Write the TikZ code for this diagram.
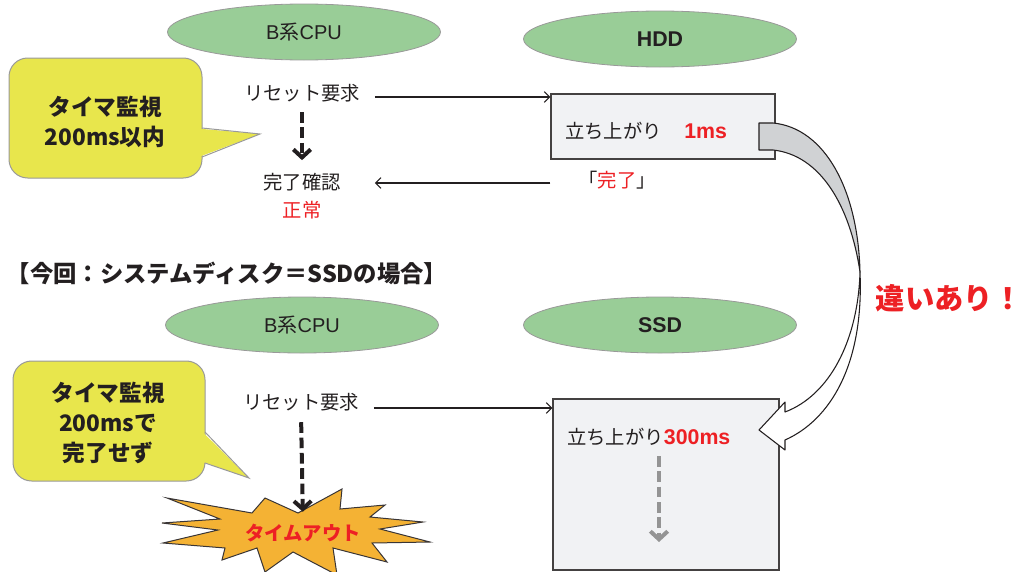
\documentclass[tikz,border=0pt]{standalone}
\usepackage{fontspec}
\setmainfont{Noto Sans CJK JP}
\newfontfamily\lat{Liberation Sans}
\usetikzlibrary{shapes.geometric,arrows.meta,calc}
\definecolor{ellg}{RGB}{153,205,151}
\definecolor{yel}{RGB}{232,230,76}
\definecolor{boxg}{RGB}{241,242,244}
\definecolor{myred}{RGB}{237,32,36}
\definecolor{orng}{RGB}{244,178,52}
\definecolor{ink}{RGB}{35,31,32}
\definecolor{arrg}{RGB}{208,210,212}
\begin{document}
\begin{tikzpicture}[x=0.75pt,y=-0.75pt,
 ell/.style={ellipse,draw=black!40,line width=0.6pt,fill=ellg,minimum width=204.75pt,minimum height=42pt,inner sep=0pt,text=ink},
 lbl/.style={text=ink,inner sep=2pt,font={\fontsize{14.5pt}{17pt}\selectfont}},
 bigb/.style={text=ink,align=center,inner sep=0pt,font={\fontsize{17pt}{22.5pt}\selectfont\bfseries}},
 boxs/.style={draw=ink!85,line width=1pt,fill=boxg,inner sep=0pt},
 callout/.style={draw=black!40,line width=0.75pt,fill=yel},
 thinarr/.style={draw=ink,line width=0.8pt,-{Straight Barb[length=4pt,width=8pt]}},
 thickdash/.style={draw=ink,line width=3pt,dash pattern=on 8pt off 3.5pt,-{Straight Barb[length=6pt,width=13pt]}},
 graydash/.style={draw=black!42,line width=3pt,dash pattern=on 8pt off 3.5pt,-{Straight Barb[length=6pt,width=13pt]}},
 blockarr/.style={draw=ink,line width=0.8pt,line join=round}
]
\useasboundingbox (0,0) rectangle (1023,571);

% ---------- top part ----------
\node[ell] (cpu1) at (304,32) {\fontsize{15pt}{18pt}\selectfont{\lat B}系{\lat CPU}};
\node[ell] (hdd) at (660,39) {\fontsize{16pt}{18pt}\selectfont\lat\bfseries HDD};

\draw[callout,rounded corners=14pt] (9,58) rectangle (202,178);
\fill[yel] (200.5,128.8) -- (260,134) -- (200.5,156.3) -- cycle;
\draw[callout,fill=none] (202,128) -- (260,134) -- (202,157);
\node[bigb] (c1t) at (105,122) {タイマ監視\\200ms以内};

\node[lbl] (req1) at (302,93) {リセット要求};
\node[lbl] (done1) at (302,182) {完了確認};
\node[lbl,text=myred] (norm1) at (302,210) {正常};

\node[boxs,minimum width=168pt,minimum height=48.75pt] (box1) at (663,126.5) {};
\node[lbl,anchor=west,inner sep=0pt] (rise1) at (565,131) {立ち上がり};
\node[anchor=west,inner sep=0pt,text=myred,font={\fontsize{16pt}{18pt}\selectfont\lat\bfseries}] (ms1) at (684,131) {1ms};
\node[lbl] (kanryo) at (617,180) {「{\color{myred}完了}」};

\draw[thinarr] ($(req1.east)+(12,4)$) -- ($(req1.east -| box1.west)+(0,4)$);
\draw[thinarr] ($(done1.east -| box1.west)+(0,1)$) -- ($(done1.east -| req1.east)+(12,1)$);
\draw[thickdash,shorten <=5.5pt,shorten >=7.5pt] (req1.south) -- (done1.north);

% ---------- title ----------
\node[text=ink,inner sep=0pt,font={\fontsize{17.5pt}{20pt}\selectfont\bfseries}] (title) at (227,273) {【今回：システムディスク＝SSDの場合】};

% ---------- bottom part ----------
\node[ell] (cpu2) at (302,325) {\fontsize{15pt}{18pt}\selectfont{\lat B}系{\lat CPU}};
\node[ell] (ssd) at (660,325) {\fontsize{16pt}{18pt}\selectfont\lat\bfseries SSD};

\draw[callout,rounded corners=14pt] (13,361) rectangle (205,481);
\fill[yel] (203.5,432.8) -- (249,478) -- (203.5,462.3) -- cycle;
\draw[callout,fill=none] (205,432) -- (249,478) -- (205,463);
\node[bigb] (c2t) at (108,423) {タイマ監視\\200msで\\完了せず};

\node[lbl] (req2) at (301,402) {リセット要求};

\draw[draw=ink!90,line width=0.75pt,fill=orng,line join=miter]
 (167,498) -- (252,513) -- (265,498) -- (298,513) -- (342,489) -- (340,509) -- (385,505) -- (370,517)
 -- (423,522) -- (380,529) -- (430,542) -- (372,543) -- (387,562) -- (333,548) -- (337,575)
 -- (293,552) -- (265,572) -- (257,548) -- (222,560) -- (225,548) -- (163,543) -- (218,530)
 -- (162,523) -- (220,519) -- cycle;
\node[text=myred,inner sep=2pt,font={\fontsize{14.5pt}{17pt}\selectfont\bfseries}] (stxt) at (303,533) {タイムアウト};

\draw[thickdash,shorten <=6.3pt,shorten >=7pt] (req2.south) -- (stxt.north);

\node[boxs,minimum width=169.5pt,minimum height=128.25pt] (box2) at (666,484.5) {};
\node[lbl,anchor=west,inner sep=0pt] (rise2) at (567,437) {立ち上がり{\color{myred}\fontsize{16pt}{18pt}\selectfont\lat\bfseries 300ms}};
\draw[thinarr] ($(req2.east)+(12,6)$) -- ($(req2.east -| box2.west)+(0,6)$);

\coordinate (g1) at (659,456);
\coordinate (g2) at (659,542);
\draw[graydash] (g1) -- (g2);

% ---------- curved block arrow ----------
\draw[blockarr,fill=arrg] (759,123) -- (773,123) .. controls (825,128) and (858,190) .. (860,272)
  .. controls (850,205) and (820,155) .. (773,150) -- (759,150) -- cycle;
\draw[blockarr,fill=white] (860,272) .. controls (864,365) and (830,420) .. (785,440)
  -- (785,450) -- (759,430) -- (785,402) -- (785,412)
  .. controls (830,395) and (858,340) .. (860,272) -- cycle;

\node[text=myred,inner sep=0pt,font={\fontsize{22pt}{24pt}\selectfont\bfseries}] (diff) at (949,298) {違いあり！};
\end{tikzpicture}
\end{document}
